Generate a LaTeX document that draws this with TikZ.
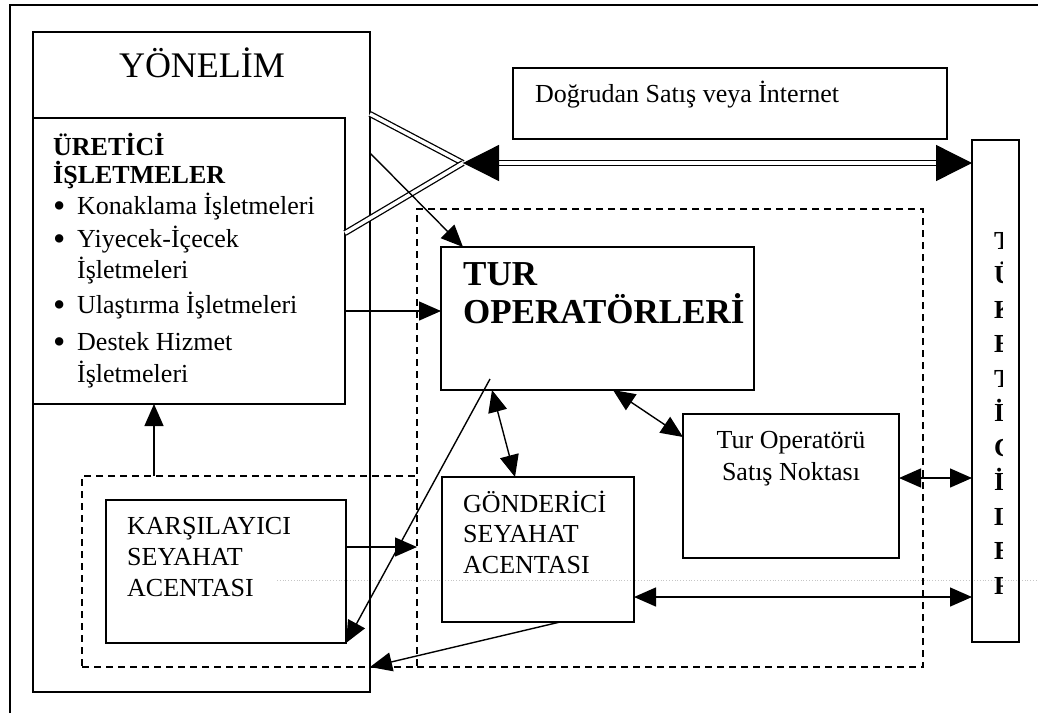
\documentclass[tikz,border=0pt]{standalone}
\usepackage{fontspec}
\setmainfont{Liberation Serif}
\usetikzlibrary{arrows.meta}
\tikzset{
  box/.style={draw, line width=1.3pt, inner sep=0, outer sep=0, anchor=north west},
  dbox/.style={draw, line width=1.2pt, dash pattern=on 7pt off 5pt, inner sep=0, outer sep=0, anchor=north west},
  txt/.style={inner sep=0, anchor=base west, font=\fontsize{26}{31}\selectfont},
  ctxt/.style={txt, anchor=base},
  link/.style={line width=1.4pt, line join=round},
  dbl/.style={double, double distance=3.5pt, line width=1.3pt},
  bigtip/.tip={Triangle[length=36pt,width=36pt]},
}
\begin{document}
\begin{tikzpicture}[x=1pt,y=-1pt,>={Triangle[length=22pt,width=19pt]}]
\useasboundingbox (0,0) rectangle (1038,713);
% outer frame
\draw[line width=1.3pt] (10,713) |- (1038,5);
% faint line of the scan
\draw[gray!45, dotted, line width=0.8pt] (277,580) -- (1038,580);

% boxes
\node[box, minimum width=337pt, minimum height=660pt] (yonelim) at (33,32) {};
\node[box, minimum width=312pt, minimum height=286pt] (uretici) at (33,118) {};
\node[dbox, minimum width=335pt, minimum height=191pt] (karsidash) at (82,476) {};
\node[dbox, minimum width=506pt, minimum height=458pt] (turdash) at (417,209) {};
\node[box, minimum width=240pt, minimum height=143pt] (karsi) at (106,500) {};
\node[box, minimum width=313pt, minimum height=143pt] (turop) at (441,247) {};
\node[box, minimum width=192pt, minimum height=145pt] (gond) at (442,477) {};
\node[box, minimum width=216pt, minimum height=144pt] (satis) at (683,414) {};
\node[box, minimum width=434pt, minimum height=71pt] (dogru) at (513,68) {};
\node[box, minimum width=47pt, minimum height=502pt] (tuket) at (972,140) {};

% texts
\node[ctxt, font=\fontsize{36}{40}\selectfont] (yonelim_t) at (202,77) {YÖNELİM};
\node[txt, font=\fontsize{26}{31}\selectfont\bfseries] (uretici_t1) at (53,155) {ÜRETİCİ};
\node[txt, font=\fontsize{26}{31}\selectfont\bfseries] (uretici_t2) at (53,183) {İŞLETMELER};
\foreach \y/\t/\b [count=\i] in {214/Konaklama İşletmeleri/1, 247/Yiyecek-İçecek/1,
    278/İşletmeleri/0, 313/Ulaştırma İşletmeleri/1, 350/Destek Hizmet/1, 382/İşletmeleri/0}
  \node[txt] (item\i) at (53,\y) {\makebox[24pt][l]{\ifnum\b=1 \raisebox{-3pt}{\scalebox{1.35}{\textbullet}}\fi}\t};
\foreach \t [count=\i] in {KARŞILAYICI, SEYAHAT, ACENTASI}
  \node[txt] (karsi_t\i) at (127,503+31*\i) {\t};
\node[txt, font=\fontsize{35}{38}\selectfont\bfseries] (turop_t1) at (463,285) {TUR};
\node[txt, font=\fontsize{35}{38}\selectfont\bfseries] (turop_t2) at (463,323) {OPERATÖRLERİ};
\foreach \t [count=\i] in {GÖNDERİCİ, SEYAHAT, ACENTASI}
  \node[txt] (gond_t\i) at (463,481.5+30.5*\i) {\t};
\node[ctxt] (satis_t1) at (791,448) {Tur Operatörü};
\node[ctxt] (satis_t2) at (791,480) {Satış Noktası};
\node[txt] (dogru_t) at (535,102) {Doğrudan Satış veya İnternet};
\begin{scope}
  \clip (990,200) rectangle (1002,620);
  \foreach \l [count=\i] in {T,Ü,K,E,T,İ,C,İ,L,E,R}
    \node[txt, font=\fontsize{26}{31}\selectfont\bfseries] (tuket_t\i) at (994,214.5+34.5*\i) {\l};
\end{scope}

% connectors
\coordinate (jn) at (463,163);
\draw[dbl] ([yshift=-82pt]yonelim.north east) -- (jn);
\draw[dbl] ([yshift=-115pt]uretici.north east) -- (jn);
\draw[dbl, bigtip-bigtip] (jn) -- ([yshift=-23pt]tuket.north west);
\draw[link, ->] ([yshift=-121pt]yonelim.north east) -- ([xshift=22pt]turop.north west);
\draw[link, ->] ([yshift=-193pt]uretici.north east) coordinate (u1) -- (turop.west |- u1);
\draw[link, ->] ([xshift=72pt]karsidash.north west) coordinate (k1) -- (k1 |- uretici.south);
\draw[link, ->] ([yshift=-47pt]karsi.north east) coordinate (k2) -- (karsidash.east |- k2);
\draw[link, ->] ([xshift=49pt,yshift=11pt]turop.south west) -- (karsi.south east);
\draw[link, ->] ([xshift=118pt]gond.south west) -- (yonelim.east |- karsidash.south);
\draw[link, <->] ([xshift=51pt]turop.south west) -- ([xshift=73pt]gond.north west);
\draw[link, <->] ([xshift=172pt]turop.south west) -- ([yshift=-23pt]satis.north west);
\draw[link, <->] ([yshift=-64pt]satis.north east) coordinate (s1) -- (tuket.west |- s1);
\draw[link, <->] ([yshift=-120pt]gond.north east) coordinate (g1) -- (tuket.west |- g1);
\end{tikzpicture}
\end{document}
